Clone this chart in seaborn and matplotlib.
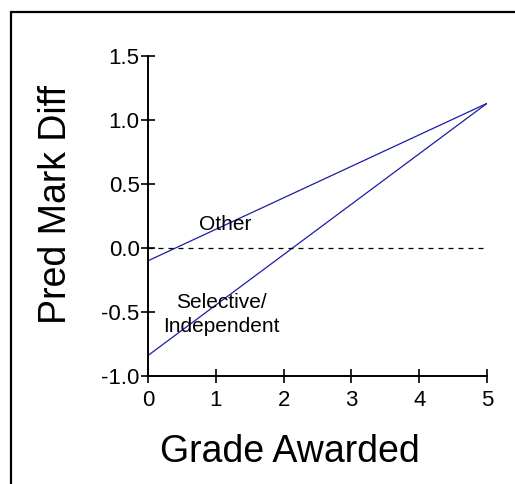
import matplotlib
matplotlib.use("Agg")
import matplotlib.pyplot as plt
import seaborn as sns
import pandas as pd
from matplotlib.lines import Line2D

# Data
grade = [0, 5]
other = [-0.10, 1.13]
selective = [-0.84, 1.13]
x_ticks = [0, 1, 2, 3, 4, 5]
y_ticks = [-1.0, -0.5, 0.0, 0.5, 1.0, 1.5]
y_tick_labels = ["-1.0", "-0.5", "0.0", "0.5", "1.0", "1.5"]

df = pd.DataFrame({
    "Grade Awarded": grade + grade,
    "Pred Mark Diff": other + selective,
    "group": ["Other"] * 2 + ["Selective/\nIndependent"] * 2,
})

sns.set_style("white", rc={"text.color": "black", "axes.labelcolor": "black",
                           "xtick.color": "black", "ytick.color": "black",
                           "xtick.bottom": True, "ytick.left": True})
plt.rcParams["font.family"] = ["Liberation Sans", "DejaVu Sans"]

fig = plt.figure(figsize=(5.15, 4.84), dpi=100)
ax = fig.add_axes([148 / 515, 1 - 376 / 484, (487 - 148) / 515, (376 - 56) / 484])

line_color = "#1c1ca8"
sns.lineplot(data=df, x="Grade Awarded", y="Pred Mark Diff", hue="group",
             palette=[line_color, line_color], linewidth=0.9, legend=False, ax=ax)
ax.axhline(0, color="black", linestyle=(0, (4, 4)), linewidth=0.9)

ax.set_xlim(0, 5)
ax.set_ylim(-1.0, 1.5)
ax.set_xticks(x_ticks)
ax.set_yticks(y_ticks)
ax.set_yticklabels(y_tick_labels)
ax.tick_params(axis="both", bottom=True, left=True, direction="inout", length=10,
               width=1.2, labelsize=16, colors="black")
ax.tick_params(axis="x", pad=5)
ax.tick_params(axis="y", pad=1)
for side in ["top", "right"]:
    ax.spines[side].set_visible(False)
for side in ["left", "bottom"]:
    ax.spines[side].set_linewidth(1.4)
    ax.spines[side].set_color("black")

ax.set_xlabel("Grade Awarded", fontsize=27, color="black")
ax.set_ylabel("Pred Mark Diff", fontsize=27, color="black")
ax.xaxis.set_label_coords((290 - 148) / 339, (376 - 452) / 320)
ax.xaxis.label.set_va("center")
ax.yaxis.set_label_coords((56 - 148) / 339, (376 - 205) / 320)
ax.yaxis.label.set_va("center")

ax.text(1.14, 0.18, "Other", fontsize=15, ha="center", va="center", color="black")
ax.text(1.08, -0.52, "Selective/\nIndependent", fontsize=15, ha="center",
        va="center", linespacing=1.35, color="black")

# outer frame (left and top edges visible)
fig.add_artist(Line2D([11 / 515, 11 / 515], [0, 1 - 12 / 484], color="black",
                      linewidth=1.6, transform=fig.transFigure))
fig.add_artist(Line2D([11 / 515, 1.0], [1 - 12 / 484, 1 - 12 / 484], color="black",
                      linewidth=1.6, transform=fig.transFigure))

fig.savefig("out.png", dpi=100)
